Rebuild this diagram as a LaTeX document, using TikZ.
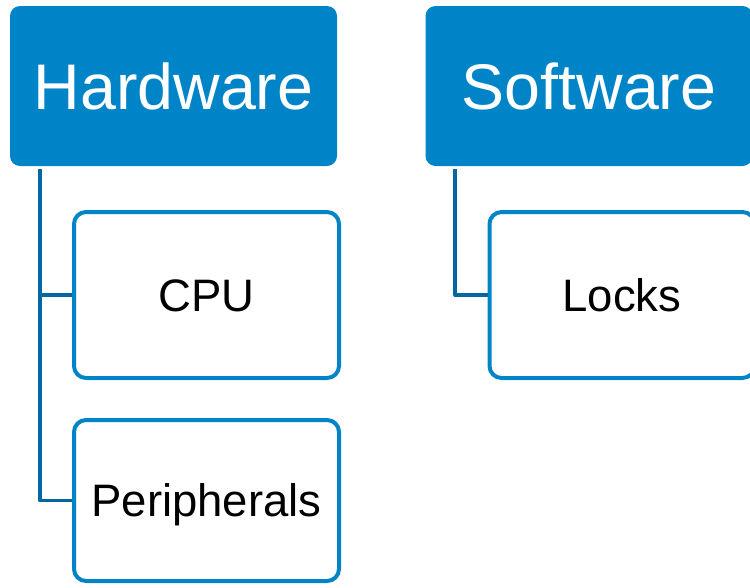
\documentclass[tikz,border=0pt]{standalone}
\usepackage{fontspec}
\setmainfont{Liberation Sans}
\definecolor{hblue}{RGB}{0,132,200}
\definecolor{cblue}{RGB}{0,104,160}
\begin{document}
\begin{tikzpicture}[x=1pt,y=-1pt,
  head/.style={fill=hblue,text=white,rounded corners=10pt,inner sep=0pt,
    minimum width=327pt,minimum height=160pt,text height=46pt,text depth=0pt,
    font=\fontsize{64.5}{70}\selectfont},
  child/.style={draw=hblue,line width=4pt,fill=white,rounded corners=12pt,inner sep=0pt,
    minimum width=265pt,text height=32.5pt,text depth=0pt,font=\fontsize{45.5}{50}\selectfont},
  conn/.style={draw=cblue,line width=3.8pt,line join=round}]
\useasboundingbox (0,0) rectangle (750,587);
\node[head] (hw) at (173.5,86) {Hardware};
\node[head] (sw) at (589,86) {Software};
\node[child,minimum height=166pt] (cpu) at (206.5,295) {CPU};
\node[child,minimum height=161pt] (per) at (206.5,500.5) {Peripherals};
\node[child,minimum height=166pt] (lock) at (622,295) {Locks};
\coordinate (hwc) at ([xshift=30.5pt,yshift=-3pt]hw.south west);
\coordinate (swc) at ([xshift=30pt,yshift=-3pt]sw.south west);
\draw[conn] (hwc) |- (cpu.west);
\draw[conn] (hwc) |- (per.west);
\draw[conn] (swc) |- (lock.west);
\end{tikzpicture}
\end{document}
